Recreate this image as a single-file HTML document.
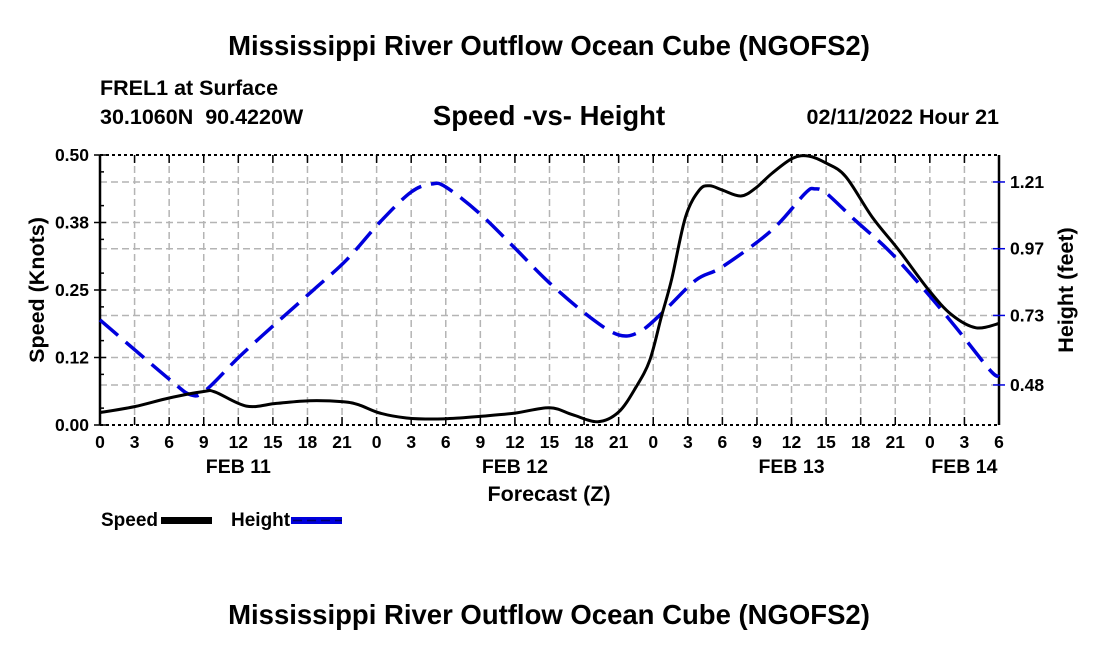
<!DOCTYPE html>
<html><head><meta charset="utf-8"><style>
body{margin:0;background:#fff;width:1100px;height:650px;overflow:hidden}
svg{font-family:"Liberation Sans",Arial,sans-serif;font-weight:bold}
</style></head><body>
<svg id="c" width="1100" height="650" xmlns="http://www.w3.org/2000/svg">
<text x="549" y="55" font-size="27.5" text-anchor="middle">Mississippi River Outflow Ocean Cube (NGOFS2)</text>
<text x="100" y="95" font-size="21.5">FREL1 at Surface</text>
<text x="100" y="124" font-size="21.5" xml:space="preserve">30.1060N  90.4220W</text>
<text x="549" y="125" font-size="27.5" text-anchor="middle">Speed -vs- Height</text>
<text x="999" y="124" font-size="21.5" text-anchor="end">02/11/2022 Hour 21</text>
<text x="549" y="501" font-size="21.5" text-anchor="middle">Forecast (Z)</text>
<text transform="translate(44,290) rotate(-90)" font-size="21.5" text-anchor="middle">Speed (Knots)</text>
<text transform="translate(1073,290) rotate(-90)" font-size="21.5" text-anchor="middle">Height (feet)</text>
<g>
<text x="101" y="526" font-size="19">Speed</text>
<rect x="161" y="517" width="51" height="7" fill="#000"/>
<text x="231" y="526" font-size="19">Height</text>
<rect x="291" y="517" width="51" height="7" fill="#0000dd"/>
<line x1="293" y1="520.5" x2="342" y2="520.5" stroke="#000066" stroke-width="1.5" stroke-dasharray="9,5"/>
</g>
<text x="549" y="624" font-size="27.5" text-anchor="middle">Mississippi River Outflow Ocean Cube (NGOFS2)</text>
<g id="plot"></g>
</svg>
<script>
const xTicks=[0,3,6,9,12,15,18,21,0,3,6,9,12,15,18,21,0,3,6,9,12,15,18,21,0,3,6];
const dayLabels=["FEB 11","FEB 12","FEB 13","FEB 14"];
const dayLabelHours=[12,36,60,75];
const leftTicks=[0.00,0.125,0.25,0.375,0.50];
const leftTickLabels=["0.00","0.12","0.25","0.38","0.50"];
const rightTicks=[0.48,0.73,0.97,1.21];
const speedHours=[0,3,6,9,10,12.7,15.3,18.2,21.1,22.5,24.3,26.6,28.9,31.2,33,36,39,41,43.2,45,46.5,47.7,48.7,49.6,50.8,52,52.9,54,55.6,56.9,58.3,60.1,61.5,63,64.7,67,69.3,71.9,73.9,76,78];
const speedValues=[0.023,0.034,0.05,0.062,0.061,0.035,0.04,0.045,0.043,0.037,0.022,0.013,0.011,0.013,0.016,0.022,0.032,0.019,0.006,0.024,0.07,0.12,0.2,0.27,0.385,0.435,0.443,0.435,0.424,0.439,0.466,0.494,0.498,0.485,0.46,0.385,0.324,0.25,0.204,0.18,0.188];
const heightHours=[0,6,7.9,9.2,12.1,15.3,18.5,21.4,24.3,27,28.8,30,32.9,36,39,42.5,45,46.8,48.8,51.7,54,58.3,61.2,62,63,65.5,68.4,71.3,74.2,77.2,78];
const heightValues=[0.714,0.501,0.444,0.462,0.582,0.703,0.821,0.93,1.066,1.174,1.203,1.192,1.098,0.972,0.847,0.724,0.66,0.671,0.74,0.857,0.905,1.037,1.17,1.185,1.17,1.073,0.965,0.833,0.69,0.534,0.51];

const X0=100,X1=999,Y0=425,Y1=155;
const xs=h=>X0+(X1-X0)*h/78;
const yl=v=>Y0-(Y0-Y1)*v/0.5;
const RMIN=0.336,RMAX=1.307;
const yr=v=>Y0-(Y0-Y1)*(v-RMIN)/(RMAX-RMIN);
const NS="http://www.w3.org/2000/svg";
const P=document.getElementById('plot');
function mk(t,a,parent){const e=document.createElementNS(NS,t);for(const k in a)e.setAttribute(k,a[k]);(parent||P).appendChild(e);return e;}
const grid=mk('g',{});


for(let i=1;i<26;i++){const x=xs(i*3);mk('line',{x1:x,y1:Y1,x2:x,y2:Y0,stroke:'#b4b4b4','stroke-width':1.5,'stroke-dasharray':'7,4'},grid);}
leftTicks.slice(1,-1).forEach(v=>mk('line',{x1:X0,y1:yl(v),x2:X1,y2:yl(v),stroke:'#b4b4b4','stroke-width':1.5,'stroke-dasharray':'7,4'},grid));
rightTicks.forEach(v=>mk('line',{x1:X0,y1:yr(v),x2:X1,y2:yr(v),stroke:'#b4b4b4','stroke-width':1.5,'stroke-dasharray':'7,4'},grid));
mk('line',{x1:X0,y1:Y1,x2:X0,y2:Y0,stroke:'#000','stroke-width':2.5});
mk('line',{x1:X1,y1:Y1,x2:X1,y2:Y0,stroke:'#000','stroke-width':2.5});
mk('line',{x1:X0,y1:Y1,x2:X1,y2:Y1,stroke:'#000','stroke-width':2,'stroke-dasharray':'3,3'});
mk('line',{x1:X0,y1:Y0,x2:X1,y2:Y0,stroke:'#000','stroke-width':2,'stroke-dasharray':'3,3'});
xTicks.forEach((t,i)=>{const x=xs(i*3);
mk('line',{x1:x,y1:Y0,x2:x,y2:Y0-8,stroke:'#000','stroke-width':1.5});
mk('line',{x1:x,y1:Y1,x2:x,y2:Y1+8,stroke:'#000','stroke-width':1.5});
const tx=mk('text',{x:x,y:Y0+23,'font-size':17.5,'text-anchor':'middle'});tx.textContent=t;

});
dayLabels.forEach((d,i)=>{const tx=mk('text',{x:xs(dayLabelHours[i]),y:473,'font-size':19.5,'text-anchor':'middle'});tx.textContent=d;

});
leftTicks.forEach((v,i)=>{const y=yl(v);
mk('line',{x1:X0-6,y1:y,x2:X0+6,y2:y,stroke:'#000','stroke-width':1.5});
const tx=mk('text',{x:X0-11,y:y+6,'font-size':17.5,'text-anchor':'end'});tx.textContent=leftTickLabels[i];

});
for(let i=0;i<8;i++){const y=yl(0.0625*i+0.03125);mk('line',{x1:X0,y1:y,x2:X0+4,y2:y,stroke:'#000','stroke-width':1.5});}
rightTicks.forEach(v=>{const y=yr(v);
mk('line',{x1:X1-6,y1:y,x2:X1+6,y2:y,stroke:'#0000dd','stroke-width':1.5});
const tx=mk('text',{x:X1+11,y:y+6,'font-size':17.5});tx.textContent=v.toFixed(2);

});
function path(hs,vs,fy){const p=hs.map((h,i)=>[xs(h),fy(vs[i])]);let d='M'+p[0][0]+','+p[0][1];
for(let i=0;i<p.length-1;i++){const a=p[Math.max(0,i-1)],b=p[i],c=p[i+1],e=p[Math.min(p.length-1,i+2)];
d+=` C${b[0]+(c[0]-a[0])/6},${b[1]+(c[1]-a[1])/6} ${c[0]-(e[0]-b[0])/6},${c[1]-(e[1]-b[1])/6} ${c[0]},${c[1]}`;}return d;}
const sp=mk('path',{d:path(heightHours,heightValues,yr),fill:'none',stroke:'#0000dd','stroke-width':3.5,'stroke-dasharray':'24,10'});


const sl=mk('path',{d:path(speedHours,speedValues,yl),fill:'none',stroke:'#000','stroke-width':3});


</script>
</body></html>
